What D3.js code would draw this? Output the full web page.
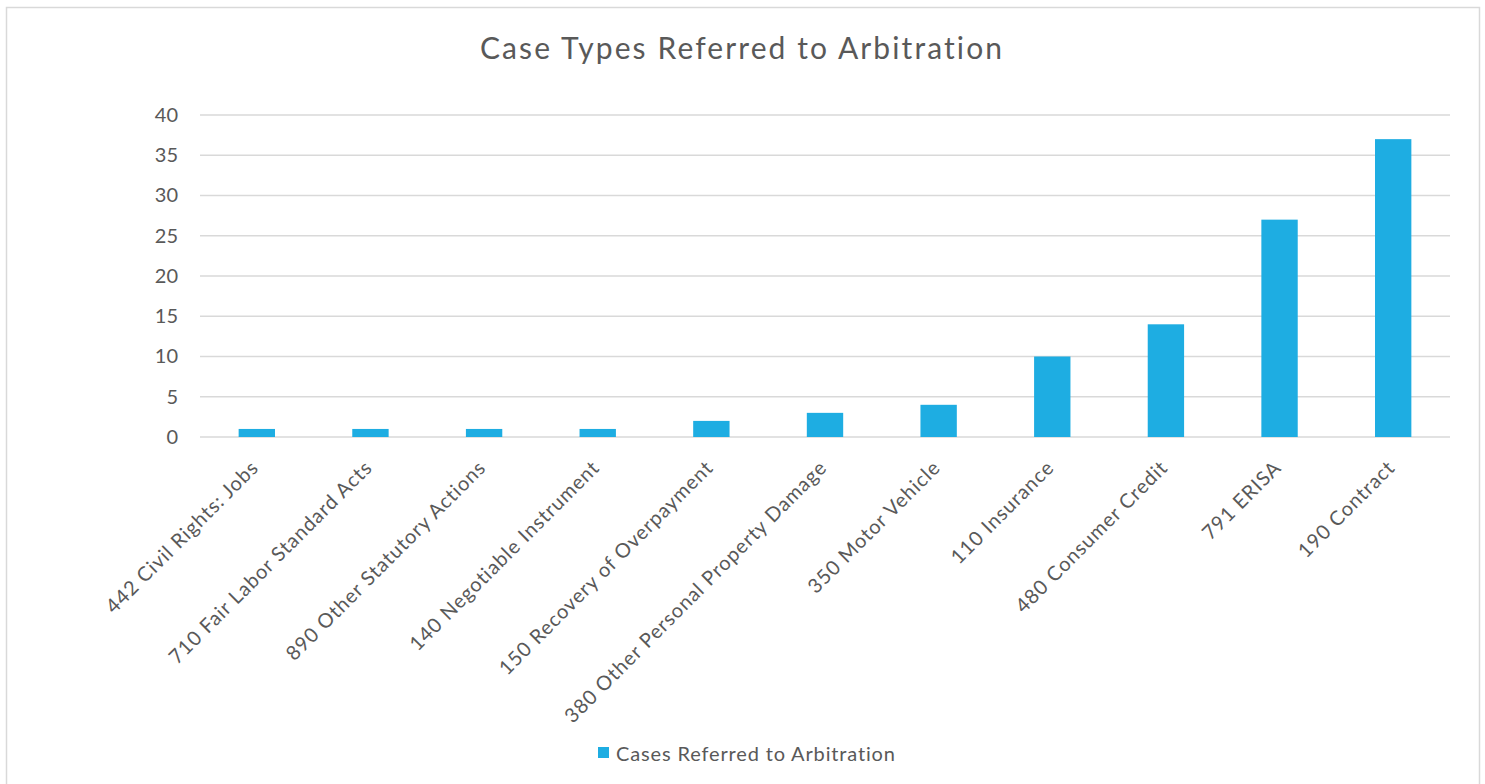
<!DOCTYPE html>
<html><head><meta charset="utf-8">
<script src="https://cdn.jsdelivr.net/npm/d3@7"></script>
<style>body{margin:0;background:#fff}svg{display:block}text{font-family:"Century Gothic","Lato","Noto Sans",sans-serif;fill:#595959}</style>
</head><body><svg id="c" width="1485" height="784"></svg>
<script>
const categories = ["442 Civil Rights: Jobs","710 Fair Labor Standard Acts","890 Other Statutory Actions","140 Negotiable Instrument","150 Recovery of Overpayment","380  Other Personal Property Damage","350 Motor Vehicle","110 Insurance","480 Consumer Credit","791 ERISA","190 Contract"];
const values = [1,1,1,1,2,3,4,10,14,27,37];
const yTicks = [0,5,10,15,20,25,30,35,40];
const seriesName = "Cases Referred to Arbitration";
const chartTitle = "Case Types Referred to Arbitration";

const svg = d3.select("#c");
const color = "#1eade2";
const font = "Lato, Noto Sans, sans-serif";
svg.append("rect").attr("x",6.5).attr("y",7.5).attr("width",1473).attr("height",790).attr("fill","#fff").attr("stroke","#d9d9d9").attr("stroke-width",1.5);

const pL=200,pR=1450,pT=115,pB=437;
const x = d3.scaleBand().domain(categories).range([pL,pR]).paddingInner(0.68).paddingOuter(0.34);
const y = d3.scaleLinear().domain([0,40]).range([pB,pT]);

svg.append("g").selectAll("line").data(yTicks).join("line")
  .attr("x1",pL).attr("x2",pR).attr("y1",d=>y(d)).attr("y2",d=>y(d))
  .attr("stroke","#d9d9d9").attr("stroke-width",1.5);

const yAxis = svg.append("g").attr("transform",`translate(${pL},0)`).call(d3.axisLeft(y).tickValues(yTicks).tickSize(0).tickPadding(22));
yAxis.select(".domain").remove();
yAxis.selectAll("text").attr("font-size",20).style("fill","#595959").attr("font-family",font);

svg.append("g").selectAll("rect").data(values).join("rect")
  .attr("x",(d,i)=>x(categories[i])).attr("width",x.bandwidth())
  .attr("y",d=>y(d)).attr("height",d=>y(0)-y(d)).attr("fill",color);

const xAxis = svg.append("g").attr("transform",`translate(0,${pB})`).call(d3.axisBottom(x).tickSize(0).tickPadding(0));
xAxis.select(".domain").remove();
xAxis.selectAll("text").attr("font-size",20).style("fill","#595959").attr("font-family",font)
  .attr("letter-spacing","0.9px")
  .attr("text-anchor","end").attr("dy",0).attr("y",0)
  .attr("transform","translate(3,32) rotate(-45)");

svg.append("text").attr("x",742).attr("y",59).attr("text-anchor","middle").attr("font-size",30).attr("letter-spacing","2.1px").attr("font-family",font).text(chartTitle);

svg.append("rect").attr("x",598).attr("y",747).attr("width",11).attr("height",11).attr("fill",color);
svg.append("text").attr("x",616).attr("y",761).attr("font-size",20).attr("letter-spacing","0.85px").attr("font-family",font).text(seriesName);
</script></body></html>
